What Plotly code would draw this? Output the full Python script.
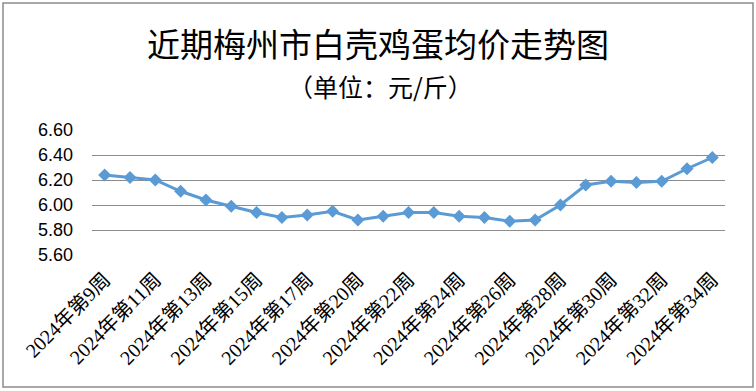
import plotly.graph_objects as go

weeks = [9, 10, 11, 12, 13, 14, 15, 16, 17, 19, 20, 21, 22, 23, 24, 25, 26, 27, 28, 29, 30, 31, 32, 33, 34]
categories = [f"2024年第{w}周" for w in weeks]
prices = [6.24, 6.22, 6.20, 6.11, 6.04, 5.99, 5.94, 5.90, 5.92, 5.95, 5.88, 5.91, 5.94, 5.94, 5.91, 5.90, 5.87, 5.88, 6.00, 6.16, 6.19, 6.18, 6.19, 6.29, 6.38]
shown_labels = categories[::2]
y_ticks = [5.60, 5.80, 6.00, 6.20, 6.40, 6.60]

title_text = "近期梅州市白壳鸡蛋均价走势图"
subtitle_text = "（单位：元/斤）"

fig = go.Figure()
fig.add_trace(go.Scatter(
    x=categories, y=prices, mode="lines+markers",
    line=dict(color="#5B9BD5", width=3),
    marker=dict(symbol="diamond", size=10, color="#5B9BD5"),
    showlegend=False, hoverinfo="x+y",
))

W, H = 756, 391
L, R, T, B = 92, 31, 130, 136
pw, ph = W - L - R, H - T - B

fig.update_layout(
    width=W, height=H,
    margin=dict(l=L, r=R, t=T, b=B, autoexpand=False),
    paper_bgcolor="white", plot_bgcolor="white",
    title=dict(text=title_text, x=0.5, xanchor="center", xref="container",
               y=1 - 45 / H, yanchor="middle", yref="container",
               font=dict(family="Noto Sans CJK SC", size=33, color="#000000")),
    annotations=[dict(text=subtitle_text, xref="paper", yref="paper",
                      x=(380 - L) / pw, y=(H - B - 86) / ph, showarrow=False,
                      xanchor="center", yanchor="middle",
                      font=dict(family="Noto Sans CJK SC", size=25, color="#000000"))],
    shapes=[dict(type="rect", xref="paper", yref="paper",
                 x0=(3 - L) / pw, x1=(753 - L) / pw,
                 y0=((H - B) - 387) / ph, y1=((H - B) - 3) / ph,
                 line=dict(color="#8C8C8C", width=1.5), fillcolor="rgba(0,0,0,0)",
                 layer="below")],
)
fig.update_xaxes(
    type="category", categoryorder="array", categoryarray=categories,
    tickmode="array", tickvals=shown_labels, ticktext=shown_labels,
    tickangle=-45, showgrid=False, showline=False, zeroline=False, automargin=False,
    ticks="", ticklabelstandoff=8,
    tickfont=dict(family="Liberation Serif, Noto Sans CJK SC", size=20, color="#000000"),
    range=[-0.5, len(categories) - 0.5],
)
fig.update_yaxes(
    range=[5.60, 6.60], tickmode="array", tickvals=y_ticks,
    ticktext=[f"{v:.2f}" for v in y_ticks], automargin=False,
    showgrid=True, gridcolor="#8C8C8C", gridwidth=1,
    showline=False, zeroline=False, ticks="",
    ticklabelstandoff=18,
    tickfont=dict(family="Liberation Sans, Open Sans", size=18, color="#000000"),
)

fig.write_html("out.html", config={"displayModeBar": False},
               post_script="document.body.style.margin='0';document.body.style.overflow='hidden';")
